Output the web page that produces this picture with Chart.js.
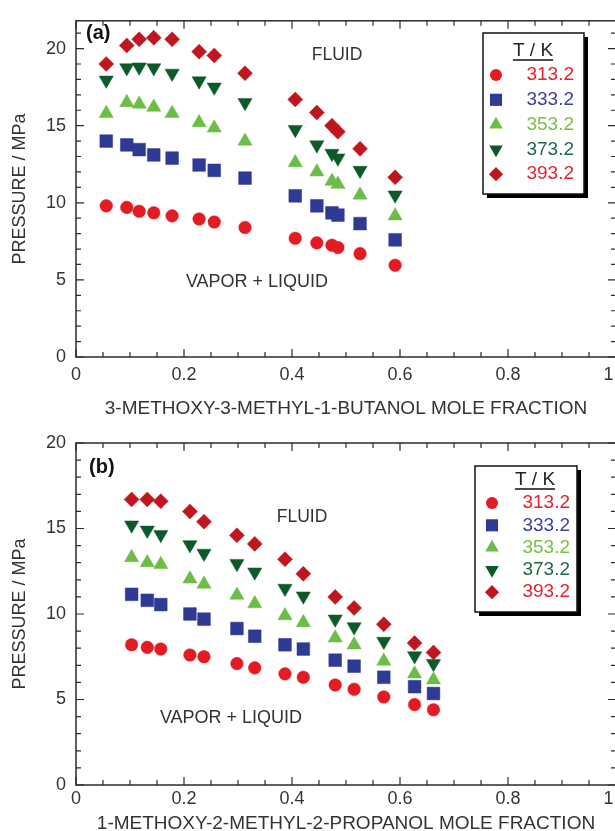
<!DOCTYPE html>
<html>
<head>
<meta charset="utf-8">
<script src="https://cdn.jsdelivr.net/npm/chart.js@4.4.1/dist/chart.umd.min.js"></script>
<style>
  body { margin: 0; background: #fff; overflow: hidden; width: 615px; height: 831px; }
  .box { position: absolute; left: 0; width: 640px; height: 420px; }
</style>
</head>
<body>
<div class="box" style="top:0px"><canvas id="chartA" width="640" height="420"></canvas></div>
<div class="box" style="top:420px"><canvas id="chartB" width="640" height="420"></canvas></div>
<script>
// temperatures (K)
const temps = ['313.2', '333.2', '353.2', '373.2', '393.2'];

// (a) 3-methoxy-3-methyl-1-butanol mole fraction
const xA = [0.056, 0.094, 0.117, 0.144, 0.178, 0.228, 0.256, 0.313, 0.406, 0.446, 0.474, 0.485, 0.526, 0.591];
const p313A = [9.8, 9.7, 9.45, 9.35, 9.15, 8.95, 8.75, 8.4, 7.7, 7.4, 7.25, 7.1, 6.7, 5.95];
const p333A = [14.0, 13.75, 13.45, 13.1, 12.9, 12.45, 12.1, 11.6, 10.45, 9.8, 9.35, 9.2, 8.65, 7.6];
const p353A = [15.8, 16.5, 16.4, 16.2, 15.8, 15.2, 14.85, 14.0, 12.6, 12.0, 11.4, 11.2, 10.5, 9.15];
const p373A = [17.95, 18.75, 18.8, 18.75, 18.4, 17.9, 17.5, 16.5, 14.75, 13.75, 13.2, 12.9, 12.1, 10.5];
const p393A = [19.0, 20.2, 20.6, 20.7, 20.6, 19.8, 19.55, 18.4, 16.7, 15.85, 15.0, 14.6, 13.5, 11.65];

// (b) 1-methoxy-2-methyl-2-propanol mole fraction
const xB = [0.103, 0.132, 0.157, 0.211, 0.237, 0.298, 0.331, 0.387, 0.421, 0.48, 0.515, 0.570, 0.627, 0.662];
const p313B = [8.2, 8.05, 7.95, 7.6, 7.5, 7.1, 6.85, 6.5, 6.3, 5.85, 5.6, 5.15, 4.7, 4.4];
const p333B = [11.15, 10.8, 10.55, 10.0, 9.7, 9.15, 8.7, 8.2, 7.95, 7.3, 6.95, 6.3, 5.75, 5.35];
const p353B = [13.3, 13.0, 12.9, 12.05, 11.75, 11.1, 10.6, 9.9, 9.5, 8.6, 8.2, 7.25, 6.5, 6.15];
const p373B = [15.2, 14.9, 14.65, 14.05, 13.55, 12.95, 12.45, 11.5, 11.05, 9.7, 9.25, 8.4, 7.55, 7.1];
const p393B = [16.7, 16.7, 16.6, 16.0, 15.4, 14.6, 14.1, 13.2, 12.35, 11.0, 10.35, 9.4, 8.3, 7.75];

const xTicks = [0, 0.2, 0.4, 0.6, 0.8, 1];
const yTicks = [0, 5, 10, 15, 20];

const markerColors = ['#e31b23', '#2e3a94', '#6cbd45', '#0c5a2a', '#c0161f'];
const textColors = ['#e8202a', '#3b3f9e', '#7ac143', '#1e6a47', '#e3242b'];
const styles = ['circle', 'rect', 'triangle', 'triangle', 'rectRot'];
const rotations = [0, 0, 0, 180, 0];
const radii = [6.3, 9, 8.2, 8.2, 7.5];

const FONT = '"Liberation Sans", Arial, sans-serif';

function makeSets(xs, series) {
    let sets = [];
    for (let s = 0; s < series.length; s++) {
        let pts = [];
        for (let i = 0; i < xs.length; i++) {
            pts.push({ x: xs[i], y: series[s][i] });
        }
        sets.push({
            label: temps[s],
            data: pts,
            pointStyle: styles[s],
            rotation: rotations[s],
            pointRadius: radii[s],
            pointBackgroundColor: markerColors[s],
            pointBorderColor: markerColors[s],
            pointBorderWidth: 0.5,
            showLine: false
        });
    }
    return sets;
}

function marker(ctx, style, x, y, r, rot, color) {
    ctx.fillStyle = color;
    ctx.beginPath();
    if (style === 'circle') {
        ctx.arc(x, y, r, 0, Math.PI * 2);
    } else if (style === 'rect') {
        let h = r * Math.SQRT1_2;
        ctx.rect(x - h, y - h, 2 * h, 2 * h);
    } else if (style === 'rectRot') {
        ctx.moveTo(x - r, y); ctx.lineTo(x, y - r); ctx.lineTo(x + r, y); ctx.lineTo(x, y + r);
    } else {
        let a = rot * Math.PI / 180;
        for (let k = 0; k < 3; k++) {
            let px = x + Math.sin(a) * r, py = y - Math.cos(a) * r;
            if (k === 0) ctx.moveTo(px, py); else ctx.lineTo(px, py);
            a += Math.PI * 2 / 3;
        }
    }
    ctx.closePath();
    ctx.fill();
}

const framePlugin = {
    id: 'frame',
    afterDraw(chart, args, o) {
        const ctx = chart.ctx;
        const a = chart.chartArea;
        const xs = chart.scales.x, ys = chart.scales.y;
        ctx.save();
        ctx.strokeStyle = '#2b2b2b';
        ctx.lineWidth = 1.5;
        ctx.strokeRect(a.left, a.top, a.right - a.left, a.bottom - a.top);
        ctx.lineWidth = 1.2;
        ctx.beginPath();
        for (let i = 0; i <= 20; i++) {
            let px = xs.getPixelForValue(i * 0.05);
            let len = i % 4 === 0 ? 8 : 5;
            ctx.moveTo(px, a.bottom); ctx.lineTo(px, a.bottom - len);
            ctx.moveTo(px, a.top); ctx.lineTo(px, a.top + len);
        }
        for (let v = 0; v <= ys.max; v++) {
            let py = ys.getPixelForValue(v);
            let len = v % 5 === 0 ? 8 : 5;
            ctx.moveTo(a.left, py); ctx.lineTo(a.left + len, py);
            ctx.moveTo(a.right, py); ctx.lineTo(a.right - len, py);
        }
        ctx.stroke();

        // panel tag and region names
        ctx.fillStyle = '#111';
        ctx.textBaseline = 'middle';
        ctx.textAlign = 'left';
        ctx.font = 'bold 20px ' + FONT;
        ctx.fillText(o.tag, o.tagPos[0], o.tagPos[1]);
        ctx.fillStyle = '#333';
        ctx.textAlign = 'center';
        ctx.font = '17.5px ' + FONT;
        ctx.fillText('FLUID', o.fluid[0], o.fluid[1]);
        ctx.font = '18px ' + FONT;
        ctx.fillText('VAPOR + LIQUID', o.vapor[0], o.vapor[1]);

        // legend box
        const b = o.box;
        ctx.fillStyle = '#000';
        ctx.fillRect(b[0] + 4, b[1] + 4, b[2] - b[0], b[3] - b[1]);
        ctx.fillStyle = '#fff';
        ctx.fillRect(b[0], b[1], b[2] - b[0], b[3] - b[1]);
        ctx.lineWidth = 1.5;
        ctx.strokeStyle = '#111';
        ctx.strokeRect(b[0], b[1], b[2] - b[0], b[3] - b[1]);
        ctx.font = '19px ' + FONT;
        ctx.fillStyle = '#222';
        ctx.textAlign = 'center';
        ctx.fillText('T / K', o.headX, o.headY);
        let w = ctx.measureText('T / K').width;
        ctx.lineWidth = 1.5;
        ctx.beginPath();
        ctx.moveTo(o.headX - w / 2, o.headY + 9);
        ctx.lineTo(o.headX + w / 2, o.headY + 9);
        ctx.stroke();
        ctx.textAlign = 'right';
        for (let s = 0; s < temps.length; s++) {
            let y = o.rowY0 + s * o.rowStep;
            marker(ctx, styles[s], o.markX, y, radii[s] * 0.95, rotations[s], markerColors[s]);
            ctx.fillStyle = textColors[s];
            ctx.fillText(temps[s], o.textX, y);
        }
        ctx.restore();
    }
};

function makeChart(id, xs, series, yMax, title, geo, deco) {
    const ctx = document.getElementById(id).getContext('2d');
    return new Chart(ctx, {
        type: 'scatter',
        data: { datasets: makeSets(xs, series) },
        options: {
            responsive: false,
            animation: false,
            layout: { padding: { left: 0, top: geo.top, right: 24, bottom: 0 } },
            plugins: { legend: { display: false }, tooltip: { enabled: false }, frame: deco },
            scales: {
                x: {
                    type: 'linear', min: 0, max: 1,
                    afterBuildTicks: (s) => { s.ticks = xTicks.map(v => ({ value: v })); },
                    afterFit: (s) => { s.height = geo.xh; },
                    grid: { display: false, drawTicks: false },
                    border: { display: false },
                    ticks: { color: '#333', padding: geo.xpad, font: { family: FONT, size: 18 }, maxRotation: 0 },
                    title: { display: true, text: title, color: '#333', padding: { top: 0, bottom: geo.tpad }, font: { family: FONT, size: 19 } }
                },
                y: {
                    type: 'linear', min: 0, max: yMax,
                    afterBuildTicks: (s) => { s.ticks = yTicks.map(v => ({ value: v })); },
                    afterFit: (s) => { s.width = 76; },
                    grid: { display: false, drawTicks: false },
                    border: { display: false },
                    ticks: { color: '#333', padding: 10, font: { family: FONT, size: 18 } },
                    title: { display: true, text: 'PRESSURE / MPa', color: '#333', padding: { top: 9, bottom: 0 }, font: { family: FONT, size: 18 } }
                }
            }
        },
        plugins: [framePlugin]
    });
}

makeChart('chartA', xA, [p313A, p333A, p353A, p373A, p393A], 21.8,
    '3-METHOXY-3-METHYL-1-BUTANOL MOLE FRACTION',
    { top: 15, xh: 63, xpad: 7, tpad: 0 },
    { tag: '(a)', tagPos: [86, 33], fluid: [337, 55], vapor: [257, 282],
      box: [483, 33, 584, 194], headX: 533, headY: 51, markX: 496, textX: 574, rowY0: 75, rowStep: 24.8 });

makeChart('chartB', xB, [p313B, p333B, p353B, p373B, p393B], 20,
    '1-METHOXY-2-METHYL-2-PROPANOL MOLE FRACTION',
    { top: 23, xh: 55, xpad: 3, tpad: 5 },
    { tag: '(b)', tagPos: [89, 47], fluid: [302, 97], vapor: [231, 298],
      box: [475, 46, 577, 192], headX: 535, headY: 60, markX: 492, textX: 570, rowY0: 83, rowStep: 22.3 });
</script>
</body>
</html>
